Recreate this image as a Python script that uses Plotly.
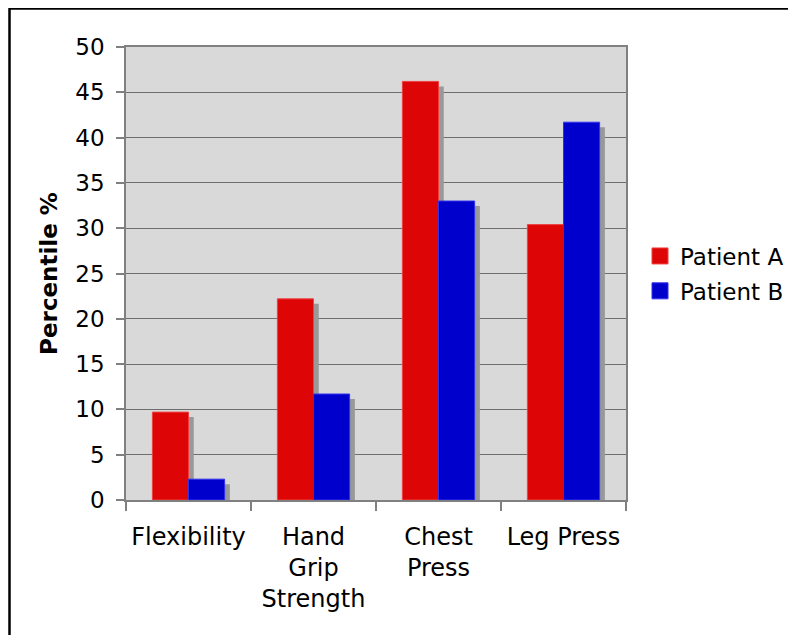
import plotly.graph_objects as go

categories = ["Flexibility", "Hand<br>Grip<br>Strength", "Chest<br>Press", "Leg Press"]
patient_a = [9.7, 22.2, 46.2, 30.4]
patient_b = [2.3, 11.7, 33.0, 41.7]
y_ticks = [0, 5, 10, 15, 20, 25, 30, 35, 40, 45, 50]

# the page body adds an 8px margin, so the figure is drawn 8px smaller
W, H = 788, 627
L, R, T, B = 118, 170, 39, 135
font = "DejaVu Sans"
red = "#dd0505"
blue = "#0000cc"
shadow = "#999999"
bw = 0.289
sx = 0.042
sy = 0.55

fig = go.Figure()
# drop shadows
fig.add_trace(go.Bar(x=categories, y=[v - sy for v in patient_a], width=bw, offset=-bw + sx,
                     marker=dict(color=shadow, line=dict(width=0)), showlegend=False, hoverinfo="skip"))
fig.add_trace(go.Bar(x=categories, y=[v - sy for v in patient_b], width=bw, offset=sx,
                     marker=dict(color=shadow, line=dict(width=0)), showlegend=False, hoverinfo="skip"))
fig.add_trace(go.Bar(x=categories, y=patient_a, width=bw, offset=-bw, name="Patient A", showlegend=False,
                     marker=dict(color=red, line=dict(color="#f04040", width=1))))
fig.add_trace(go.Bar(x=categories, y=patient_b, width=bw, offset=0, name="Patient B", showlegend=False,
                     marker=dict(color=blue, line=dict(color="#3030f0", width=1))))
# legend entries
fig.add_trace(go.Scatter(x=[None], y=[None], mode="markers", name="Patient A", legendgroup="a",
                         marker=dict(symbol="square", size=19, color=red, line=dict(color="#f04040", width=1))))
fig.add_trace(go.Scatter(x=[None], y=[None], mode="markers", name="Patient B", legendgroup="b",
                         marker=dict(symbol="square", size=19, color=blue, line=dict(color="#3030f0", width=1))))

ph = H - T - B
pw = W - L - R
fig.update_layout(
    width=W, height=H,
    margin=dict(l=L, r=R, t=T, b=B, pad=0, autoexpand=False),
    barmode="overlay",
    paper_bgcolor="white",
    plot_bgcolor="#d9d9d9",
    font=dict(family=font, size=23, color="black"),
    legend=dict(x=(632 - L) / pw, y=0.5, xanchor="left", yanchor="middle",
                font=dict(size=23), traceorder="grouped", tracegroupgap=2,
                itemwidth=30, bgcolor="rgba(0,0,0,0)", borderwidth=0),
    xaxis=dict(type="category", tickson="boundaries",
               showline=True, linecolor="#808080", linewidth=1.5, mirror=True,
               ticks="outside", ticklen=9, tickcolor="#808080", tickwidth=1.5,
               ticklabelstandoff=14,
               showgrid=False, zeroline=False, tickfont=dict(size=24)),
    yaxis=dict(range=[0, 50], tickvals=y_ticks,
               showline=True, linecolor="#808080", linewidth=1.5, mirror=True,
               ticks="outside", ticklen=8, tickcolor="#808080", tickwidth=1.5,
               ticklabelstandoff=7,
               gridcolor="#6e6e6e", gridwidth=1.2, zeroline=False,
               tickfont=dict(size=23),
               title=dict(text="<b>Percentile %</b>", font=dict(size=23), standoff=11)),
    shapes=[dict(type="rect", xref="paper", yref="paper",
                 x0=(1.5 - L) / pw, x1=(W + 20 - L) / pw,
                 y0=-(B + 20) / ph, y1=(H - 0.5 - B) / ph,
                 line=dict(color="black", width=2.5), fillcolor="rgba(0,0,0,0)", layer="above")],
)

fig.write_html("out.html")
